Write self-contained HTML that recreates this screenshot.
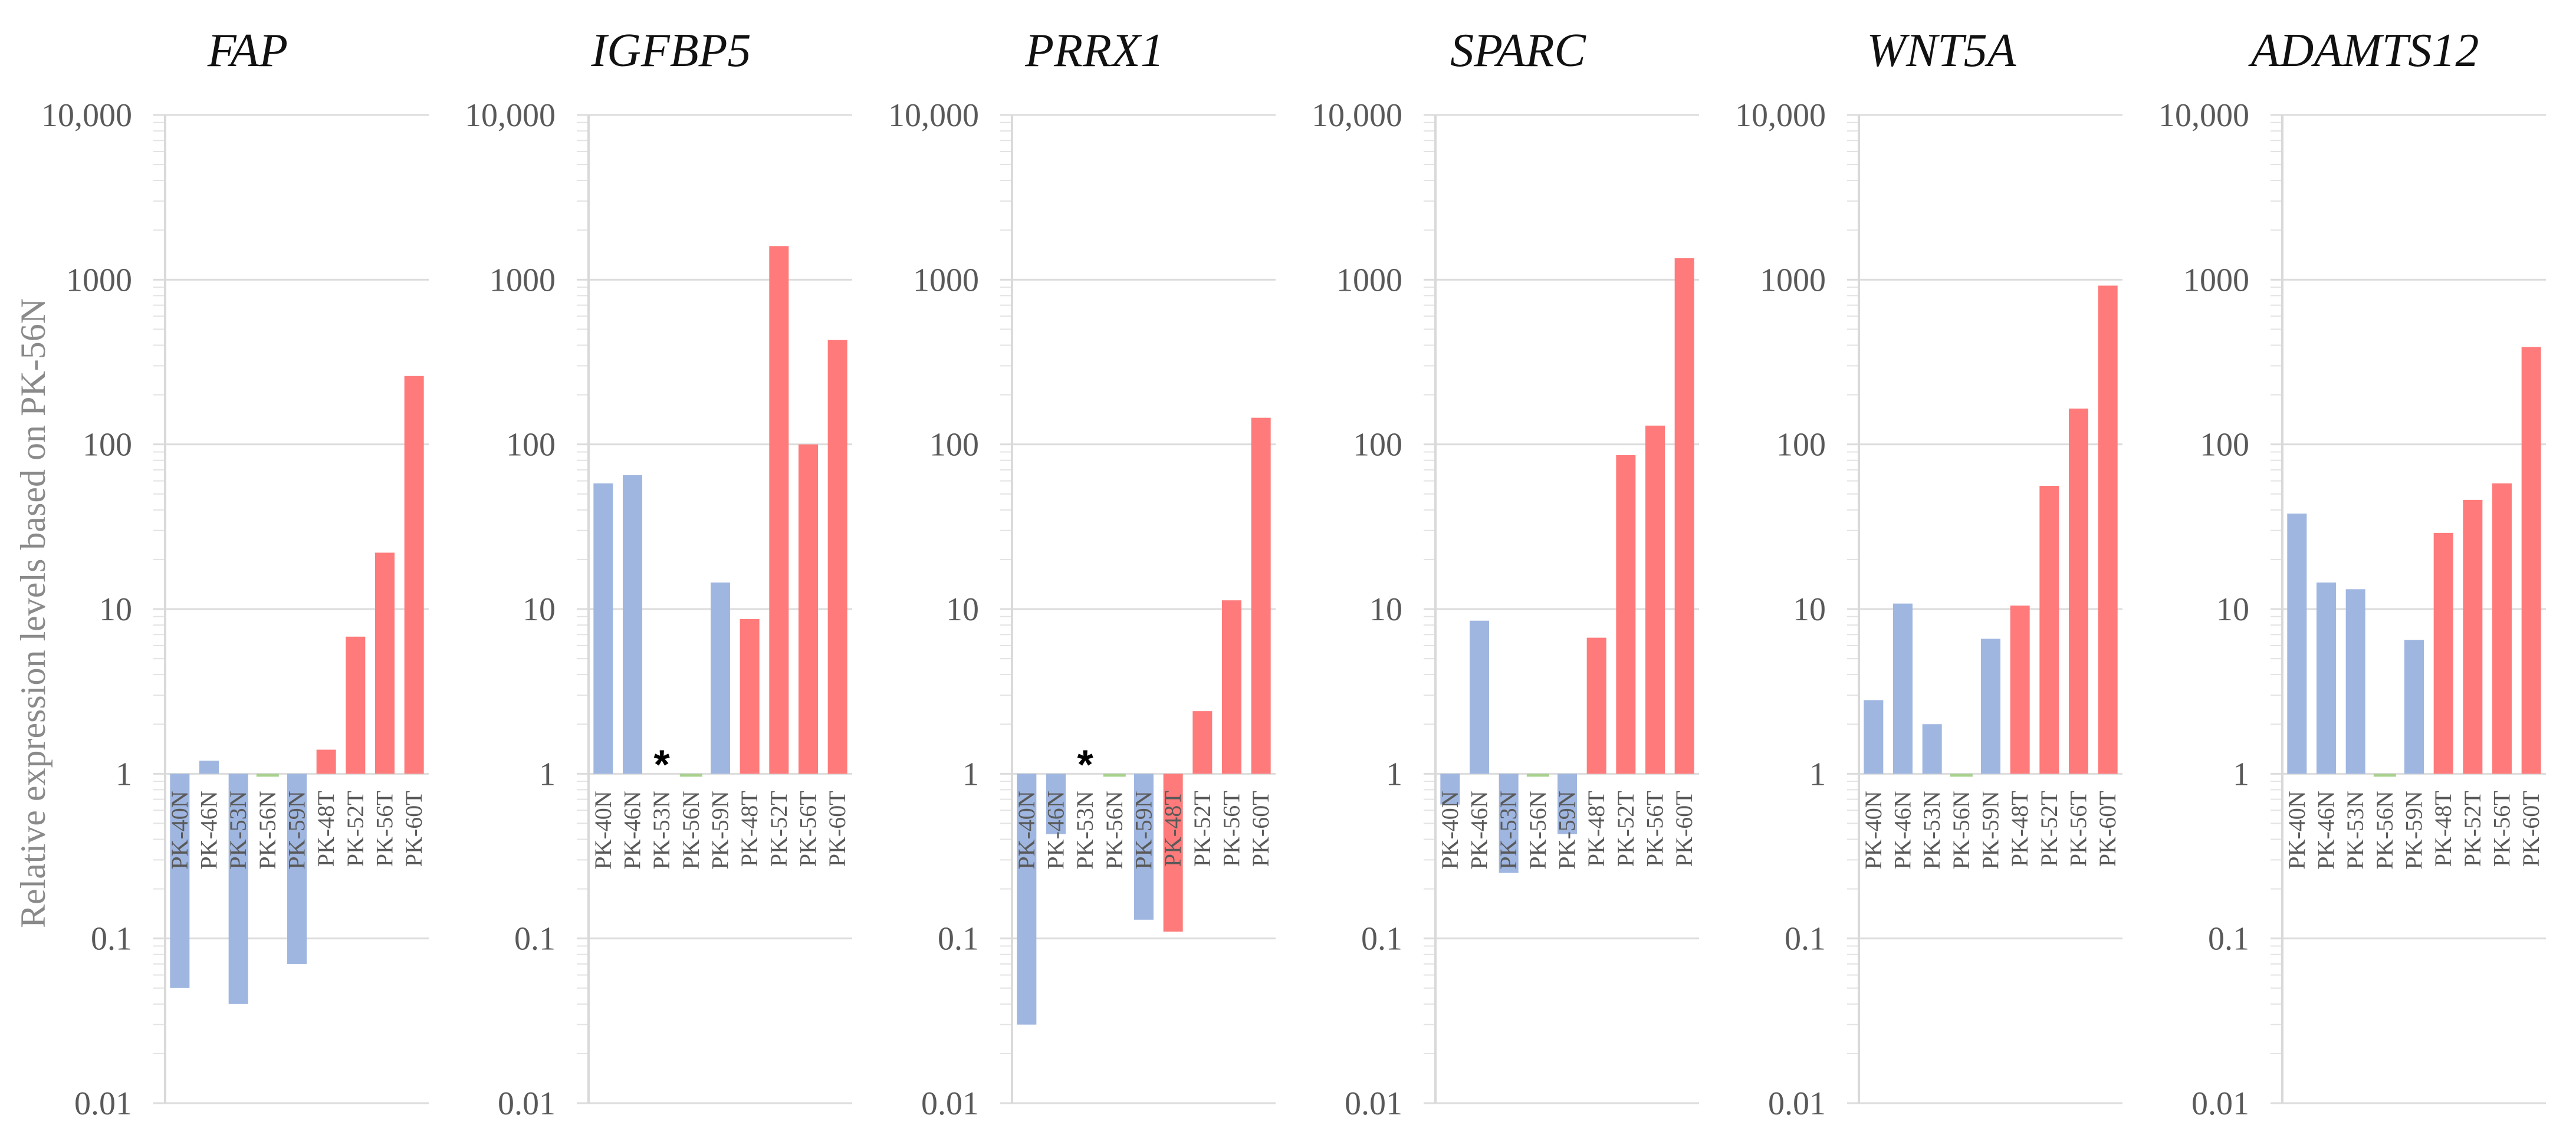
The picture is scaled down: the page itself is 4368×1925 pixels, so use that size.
<!DOCTYPE html>
<html><head><meta charset="utf-8"><style>
html,body{margin:0;padding:0;background:#fff;}
svg{display:block;}
</style></head><body>
<svg id="chart" width="4368" height="1925" viewBox="0 0 4368 1925" xmlns="http://www.w3.org/2000/svg">
<text transform="translate(76,1040) rotate(-90)" text-anchor="middle" font-family="Liberation Serif, serif" font-size="60" fill="#8a8a8a">Relative expression levels based on PK-56N</text>
<g id="panels"></g>
</svg>
<script>
const genes = ["FAP","IGFBP5","PRRX1","SPARC","WNT5A","ADAMTS12"];
const samples = ["PK-40N","PK-46N","PK-53N","PK-56N","PK-59N","PK-48T","PK-52T","PK-56T","PK-60T"];
const groups = ["N","N","N","ref","N","T","T","T","T"];
const valsFAP = [0.05,1.2,0.04,1,0.07,1.4,6.8,22,260];
const valsIGFBP5 = [58,65,null,1,14.5,8.7,1600,100,430];
const valsPRRX1 = [0.03,0.43,null,1,0.13,0.11,2.4,11.3,145];
const valsSPARC = [0.65,8.5,0.25,1,0.43,6.7,86,130,1350];
const valsWNT5A = [2.8,10.8,2.0,1,6.6,10.5,56,165,920];
const valsADAMTS12 = [38,14.5,13.2,1,6.5,29,46,58,390];
const tickValues = [10000,1000,100,10,1,0.1,0.01];
const tickLabels = ["10,000","1000","100","10","1","0.1","0.01"];
const allVals = [valsFAP,valsIGFBP5,valsPRRX1,valsSPARC,valsWNT5A,valsADAMTS12];

const NS = "http://www.w3.org/2000/svg";
const root = document.getElementById("panels");
const yTop = 195, yBot = 1871, logMax = 4, logMin = -2;
function yScale(v){ return yTop + (logMax - Math.log10(v)) / (logMax - logMin) * (yBot - yTop); }
const panelX0 = 280, panelStep = 718, plotW = 447;
function xBand(){ return plotW / samples.length; }
function mk(tag, attrs, parent){ const e = document.createElementNS(NS, tag); for (const k in attrs) e.setAttribute(k, attrs[k]); parent.appendChild(e); return e; }
const colors = {N:"#9fb6e0", T:"#ff7b7b", ref:"#a9d18e"};

genes.forEach((g, p) => {
  const ax = panelX0 + p * panelStep;
  const gp = mk("g", {}, root);
  
  
  const t = mk("text", {x: ax + 140, y: 112, "text-anchor": "middle", "font-family": "Liberation Serif, serif", "font-style": "italic", "font-size": 80, fill: "#111"}, gp);
  t.textContent = g;
  
  
  for (let d = logMin; d < logMax; d++) {
    for (let m = 2; m <= 9; m++) {
      const y = yScale(m * Math.pow(10, d));
      const mt = mk("line", {x1: ax - 20, x2: ax, y1: y, y2: y, stroke: "#e3e3e3", "stroke-width": 2}, gp);
      
      
    }
  }
  tickValues.forEach((tv, i) => {
    const y = yScale(tv);
    const gl = mk("line", {x1: ax - 20, x2: ax + plotW, y1: y, y2: y, stroke: "#dcdcdc", "stroke-width": 3}, gp);
    
    
    const tl = mk("text", {x: ax - 56, y: y + 19, "text-anchor": "end", "font-family": "Liberation Serif, serif", "font-size": 56, fill: "#595959"}, gp);
    tl.textContent = tickLabels[i];
    
    
  });
  const axl = mk("line", {x1: ax, x2: ax, y1: yTop, y2: yBot, stroke: "#d9d9d9", "stroke-width": 4}, gp);
  
  
  const vals = allVals[p];
  const bw = xBand();
  const y1 = yScale(1);
  samples.forEach((s, i) => {
    const cx = ax + bw * (i + 0.5);
    const v = vals[i];
    if (v === null) {
      const st = mk("text", {x: cx, y: y1 + 8, "text-anchor": "middle", "font-family": "Liberation Sans, sans-serif", "font-weight": "bold", "font-size": 70, fill: "#000"}, gp);
      st.textContent = "*";
      
      
    } else if (groups[i] === "ref") {
      const rb = mk("rect", {x: cx - 19, y: y1, width: 38, height: 5, fill: colors.ref}, gp);
      
      
    } else {
      const yv = yScale(v);
      const b = mk("rect", {x: cx - 16.5, y: Math.min(yv, y1), width: 33, height: Math.abs(y1 - yv), fill: colors[groups[i]]}, gp);
      
      
    }
    const lb = mk("text", {transform: "translate(" + (cx + 13) + "," + (y1 + 29) + ") rotate(-90)", "text-anchor": "end", "font-family": "Liberation Serif, serif", "font-size": 40, fill: "#595959"}, gp);
    lb.textContent = s;
    
    
  });
});
</script>
</body></html>
